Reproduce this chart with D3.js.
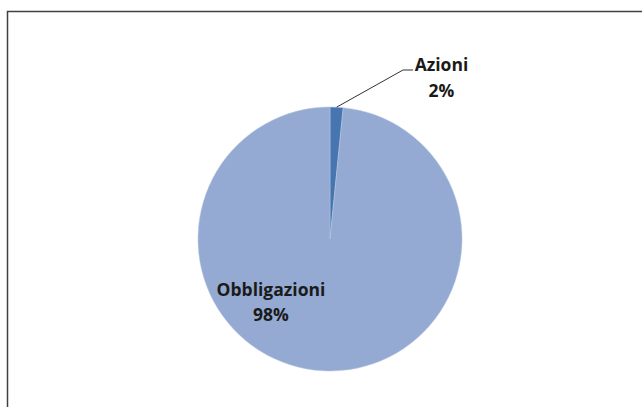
<!DOCTYPE html>
<html>
<head>
<meta charset="utf-8">
<script src="https://cdn.jsdelivr.net/npm/d3@7"></script>
<style>
  body { margin: 0; background: #fff; }
  text { font-family: "Open Sans", "Noto Sans", sans-serif; font-weight: bold; fill: #1a1a1a; }
</style>
</head>
<body>
<svg id="chart" width="642" height="407"></svg>
<script>
// data
var categories = ['Azioni', 'Obbligazioni'];
var values = [1.6, 98.4];
var pctLabels = ['2%', '98%'];
var colors = ['#4675b0', '#94aad2'];

var svg = d3.select('#chart');
var cx = 330, cy = 239, radius = 132;

// chart frame (runs off the right and bottom edges)
svg.append('rect')
  .attr('x', 7.5).attr('y', 11.5)
  .attr('width', 700).attr('height', 500)
  .attr('fill', 'none')
  .attr('stroke', '#404040')
  .attr('stroke-width', 1.5);

var pie = d3.pie().sort(null).value(function(d) { return d; });
var arc = d3.arc().innerRadius(0).outerRadius(radius);

var g = svg.append('g').attr('transform', 'translate(' + cx + ',' + cy + ')');
var arcs = pie(values);

g.selectAll('path.slice')
  .data(arcs)
  .enter().append('path')
  .attr('class', 'slice')
  .attr('d', arc)
  .attr('fill', function(d, i) { return colors[i]; })
  .attr('stroke', '#b8c6e0')
  .attr('stroke-width', 0.5);

// Azioni label, outside with leader line
var a0 = arcs[0];
var edge = d3.arc().innerRadius(radius).outerRadius(radius).centroid(a0);
var elbow = [73, -169];
var end = [83, -169];
g.append('polyline')
  .attr('points', [edge, elbow, end].map(function(p) { return p.join(','); }).join(' '))
  .attr('fill', 'none')
  .attr('stroke', '#333')
  .attr('stroke-width', 1);

function label(txt, x, y) {
  g.append('text')
    .attr('x', x).attr('y', y)
    .attr('text-anchor', 'middle')
    .style('font-size', '17.5px')
    .text(txt);
}
label(categories[0], 111.5, -168);
label(pctLabels[0], 111.5, -142);

// Obbligazioni label, inside the slice
label(categories[1], -59, 57);
label(pctLabels[1], -59, 82);
</script>
</body>
</html>
